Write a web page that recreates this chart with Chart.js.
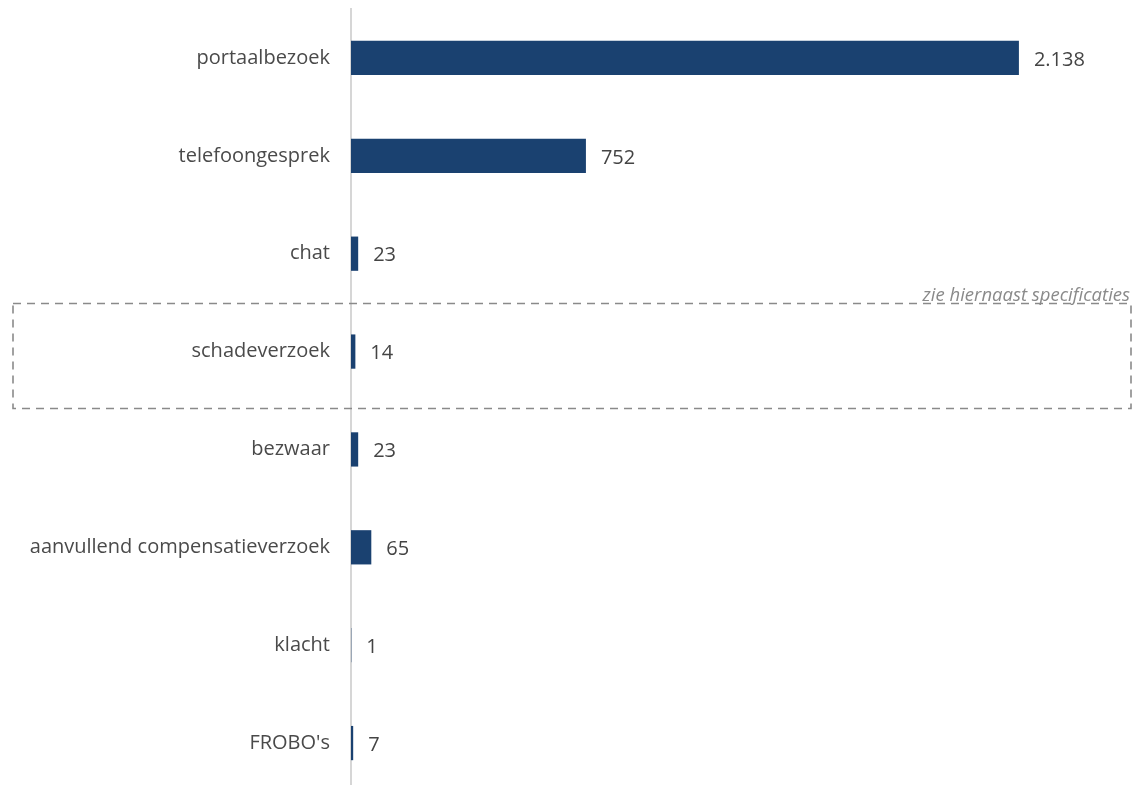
<!DOCTYPE html>
<html>
<head>
<meta charset="utf-8">
<script src="https://cdn.jsdelivr.net/npm/chart.js@4"></script>
<style>
html,body{margin:0;padding:0;background:#fff;overflow:hidden;}
#wrap{position:relative;width:1134px;height:792px;}
</style>
</head>
<body>
<div id="wrap"><canvas id="c"></canvas></div>
<script>
const categories = ["portaalbezoek","telefoongesprek","chat","schadeverzoek","bezwaar","aanvullend compensatieverzoek","klacht","FROBO's"];
const values = [2138, 752, 23, 14, 23, 65, 1, 7];
const valueLabels = ["2.138","752","23","14","23","65","1","7"];
const highlightCategory = "schadeverzoek";
const highlightNote = "zie hiernaast specificaties";

const valuePlugin = {
  id: 'valueLabels',
  afterDatasetsDraw(chart) {
    const ctx = chart.ctx;
    const meta = chart.getDatasetMeta(0);
    ctx.save();
    ctx.font = '20px "Open Sans", sans-serif';
    ctx.fillStyle = '#444444';
    ctx.textAlign = 'left';
    ctx.textBaseline = 'middle';
    meta.data.forEach((bar, i) => {
      ctx.fillText(valueLabels[i], bar.x + 15, bar.y + 2);
    });
    ctx.restore();
  }
};

const boxPlugin = {
  id: 'highlightBox',
  afterDraw(chart) {
    const ctx = chart.ctx;
    const y = chart.scales.y;
    const idx = categories.indexOf(highlightCategory);
    const cy = y.getPixelForValue(idx);
    const top = cy - 48, bottom = cy + 57;
    ctx.save();
    ctx.strokeStyle = '#8a8a8a';
    ctx.lineWidth = 1.6;
    ctx.setLineDash([8, 6]);
    ctx.strokeRect(13, top, 1131 - 13, bottom - top);
    ctx.setLineDash([]);
    ctx.font = 'italic 18.5px "Open Sans", sans-serif';
    ctx.fillStyle = '#8a8a8a';
    ctx.textAlign = 'right';
    ctx.textBaseline = 'alphabetic';
    ctx.fillText(highlightNote, 1130, top - 3);
    ctx.restore();
  }
};

new Chart(document.getElementById('c'), {
  type: 'bar',
  data: {
    labels: categories,
    datasets: [{
      data: values,
      backgroundColor: '#1a4170',
      barPercentage: 0.35,
      categoryPercentage: 1.0
    }]
  },
  options: {
    indexAxis: 'y',
    responsive: true,
    maintainAspectRatio: false,
    animation: false,
    layout: { padding: { top: 9, right: 2, left: 0, bottom: 0 } },
    plugins: { legend: { display: false }, tooltip: { enabled: false } },
    scales: {
      x: { display: false, min: 0, max: 2500 },
      y: {
        grid: { display: false },
        border: { display: true, color: '#d6d6d6', width: 2 },
        ticks: {
          color: '#4a4a4a',
          padding: 13,
          font: { family: '"Open Sans", sans-serif', size: 20 }
        },
        afterFit(scale) { scale.width = 351; scale.paddingTop = 0; scale.paddingBottom = 0; }
      }
    }
  },
  plugins: [valuePlugin, boxPlugin]
});
</script>
</body>
</html>
